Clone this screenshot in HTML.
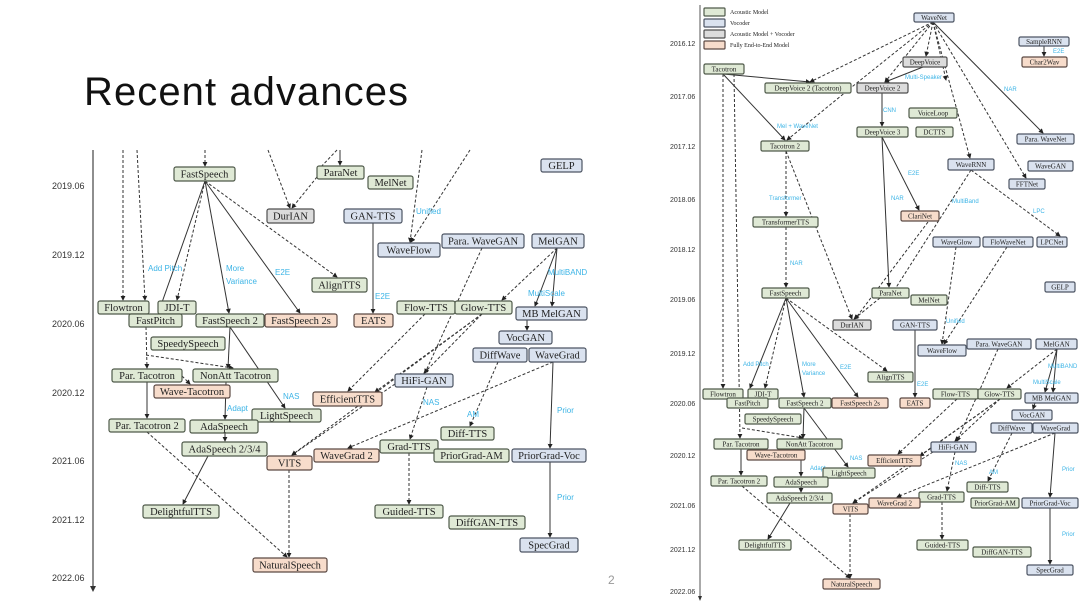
<!DOCTYPE html>
<html><head><meta charset="utf-8"><style>
html,body{margin:0;padding:0;background:#fff;width:1080px;height:608px;overflow:hidden}
svg{display:block}
.g{fill:#dfe9d5;stroke:#4f5a4a;stroke-width:1.2}
.b{fill:#dae2ef;stroke:#4d5563;stroke-width:1.2}
.y{fill:#dcdcdc;stroke:#4f4f4f;stroke-width:1.2}
.o{fill:#f7dccb;stroke:#5c4a44;stroke-width:1.2}
.L text.n{font:10.5px "Liberation Serif",serif;fill:#222;text-anchor:middle}
.R text.n{font:7px "Liberation Serif",serif;fill:#222;text-anchor:middle}
.s{stroke:#333;stroke-width:1;fill:none}
.d{stroke:#333;stroke-width:1;fill:none;stroke-dasharray:3,2}
.lb{font:8px "Liberation Sans",sans-serif;fill:#3cb4e6}
.R .lb{font:6px "Liberation Sans",sans-serif}
.ax{font:9px "Liberation Sans",sans-serif;fill:#333}
.R .ax{font:7px "Liberation Sans",sans-serif}
</style></head><body>
<svg width="1080" height="608" viewBox="0 0 1080 608" xmlns="http://www.w3.org/2000/svg">
<defs><marker id="a" viewBox="0 0 6 6" refX="5" refY="3" markerWidth="5" markerHeight="5" orient="auto"><path d="M0,0L6,3L0,6z" fill="#222"/></marker></defs>
<text x="84" y="105" font-family="Liberation Sans, sans-serif" font-size="40" fill="#111" textLength="324">Recent advances</text>
<text x="608" y="584" font-family="Liberation Sans, sans-serif" font-size="12" fill="#999">2</text>

<g class="L">
<line x1="93" y1="150" x2="93" y2="588" stroke="#444" stroke-width="1.2"/>
<path d="M90,586L93,592L96,586z" fill="#333"/>
<text class="ax" x="52" y="189">2019.06</text><text class="ax" x="52" y="258">2019.12</text><text class="ax" x="52" y="327">2020.06</text><text class="ax" x="52" y="396">2020.12</text><text class="ax" x="52" y="464">2021.06</text><text class="ax" x="52" y="523">2021.12</text><text class="ax" x="52" y="581">2022.06</text>
<g marker-end="url(#a)">
<path class="d" d="M123,150L123,300"/><path class="d" d="M137,150L145,300"/><path class="d" d="M146,327L147,368"/>
<path class="d" d="M205,150L205,166"/><path class="d" d="M268,150L290,208"/><path class="d" d="M317,177L292,208"/>
<path class="d" d="M337,150L318,170"/><path class="s" d="M340,150L340,165"/>
<path class="d" d="M422,150L410,242"/><path class="d" d="M470,150L411,242"/>
<path class="s" d="M205,181L160,308"/><path class="d" d="M205,181L177,300"/><path class="s" d="M205,181L229,313"/><path class="s" d="M205,181L300,313"/><path class="d" d="M205,181L337,277"/>
<path class="s" d="M373,223L373,313"/>
<path class="d" d="M482,248L425,373"/>
<path class="s" d="M557,248L535,306"/><path class="s" d="M557,248L552,306"/><path class="d" d="M557,248L502,300"/>
<path class="s" d="M527,320L527,330"/>
<path class="d" d="M425,314L348,391"/><path class="d" d="M482,314L424,373"/><path class="d" d="M482,314L292,455"/><path class="d" d="M482,314L375,392"/>
<path class="d" d="M498,362L470,426"/>
<path class="s" d="M553,362L550,448"/><path class="d" d="M553,362L348,448"/>
<path class="s" d="M550,462L550,537"/>
<path class="d" d="M395,384L292,455"/><path class="d" d="M427,387L410,439"/>
<path class="s" d="M230,327L228,368"/><path class="s" d="M230,327L285,408"/>
<path class="d" d="M146,355L233,368"/>
<path class="d" d="M182,376L190,384"/><path class="s" d="M147,382L147,418"/>
<path class="s" d="M226,382L225,419"/><path class="s" d="M225,433L225,441"/>
<path class="s" d="M208,456L183,504"/>
<path class="d" d="M147,432L287,557"/><path class="d" d="M289,470L289,557"/>
<path class="d" d="M409,453L409,504"/>
</g>
<text class="lb" x="148" y="271">Add Pitch</text><text class="lb" x="226" y="271">More</text><text class="lb" x="226" y="284">Variance</text><text class="lb" x="275" y="275">E2E</text>
<text class="lb" x="416" y="214">Unified</text><text class="lb" x="375" y="299">E2E</text><text class="lb" x="548" y="275">MultiBAND</text><text class="lb" x="528" y="296">MultiScale</text>
<text class="lb" x="283" y="399">NAS</text><text class="lb" x="227" y="411">Adapt</text><text class="lb" x="423" y="405">NAS</text><text class="lb" x="467" y="417">AM</text><text class="lb" x="557" y="413">Prior</text><text class="lb" x="557" y="500">Prior</text>
<rect class="g" x="174" y="167" width="61" height="14" rx="2"/><text class="n" x="204.5" y="177.5">FastSpeech</text>
<rect class="g" x="317" y="166" width="47" height="13" rx="2"/><text class="n" x="340.5" y="176">ParaNet</text>
<rect class="g" x="368" y="176" width="45" height="13" rx="2"/><text class="n" x="390.5" y="186">MelNet</text>
<rect class="b" x="541" y="159" width="41" height="13" rx="2"/><text class="n" x="561.5" y="169">GELP</text>
<rect class="y" x="267" y="209" width="47" height="14" rx="2"/><text class="n" x="290.5" y="219.5">DurIAN</text>
<rect class="b" x="344" y="209" width="58" height="14" rx="2"/><text class="n" x="373" y="219.5">GAN-TTS</text>
<rect class="b" x="378" y="243" width="62" height="14" rx="2"/><text class="n" x="409" y="253.5">WaveFlow</text>
<rect class="b" x="442" y="234" width="82" height="14" rx="2"/><text class="n" x="483" y="244.5">Para. WaveGAN</text>
<rect class="b" x="532" y="234" width="52" height="14" rx="2"/><text class="n" x="558" y="244.5">MelGAN</text>
<rect class="g" x="312" y="278" width="55" height="14" rx="2"/><text class="n" x="339.5" y="288.5">AlignTTS</text>
<rect class="g" x="98" y="301" width="51" height="13" rx="2"/><text class="n" x="123.5" y="311">Flowtron</text>
<rect class="g" x="158" y="301" width="38" height="13" rx="2"/><text class="n" x="177" y="311">JDI-T</text>
<rect class="g" x="129" y="314" width="53" height="13" rx="2"/><text class="n" x="155.5" y="324">FastPitch</text>
<rect class="g" x="196" y="314" width="68" height="13" rx="2"/><text class="n" x="230" y="324">FastSpeech 2</text>
<rect class="o" x="265" y="314" width="72" height="13" rx="2"/><text class="n" x="301" y="324">FastSpeech 2s</text>
<rect class="o" x="354" y="314" width="39" height="13" rx="2"/><text class="n" x="373.5" y="324">EATS</text>
<rect class="g" x="397" y="301" width="58" height="13" rx="2"/><text class="n" x="426" y="311">Flow-TTS</text>
<rect class="g" x="455" y="301" width="57" height="13" rx="2"/><text class="n" x="483.5" y="311">Glow-TTS</text>
<rect class="b" x="516" y="307" width="71" height="13" rx="2"/><text class="n" x="551.5" y="317">MB MelGAN</text>
<rect class="b" x="499" y="331" width="53" height="13" rx="2"/><text class="n" x="525.5" y="341">VocGAN</text>
<rect class="g" x="151" y="337" width="74" height="13" rx="2"/><text class="n" x="188" y="347">SpeedySpeech</text>
<rect class="b" x="473" y="348" width="54" height="14" rx="2"/><text class="n" x="500" y="358.5">DiffWave</text>
<rect class="b" x="529" y="348" width="57" height="14" rx="2"/><text class="n" x="557.5" y="358.5">WaveGrad</text>
<rect class="g" x="112" y="369" width="70" height="13" rx="2"/><text class="n" x="147" y="379">Par. Tacotron</text>
<rect class="g" x="193" y="369" width="85" height="13" rx="2"/><text class="n" x="235.5" y="379">NonAtt Tacotron</text>
<rect class="o" x="154" y="385" width="76" height="13" rx="2"/><text class="n" x="192" y="395">Wave-Tacotron</text>
<rect class="b" x="395" y="374" width="58" height="13" rx="2"/><text class="n" x="424" y="384">HiFi-GAN</text>
<rect class="o" x="313" y="392" width="69" height="14" rx="2"/><text class="n" x="347.5" y="402.5">EfficientTTS</text>
<rect class="g" x="252" y="409" width="69" height="13" rx="2"/><text class="n" x="286.5" y="419">LightSpeech</text>
<rect class="g" x="109" y="419" width="76" height="13" rx="2"/><text class="n" x="147" y="429">Par. Tacotron 2</text>
<rect class="g" x="190" y="420" width="68" height="13" rx="2"/><text class="n" x="224" y="430">AdaSpeech</text>
<rect class="g" x="441" y="427" width="53" height="13" rx="2"/><text class="n" x="467.5" y="437">Diff-TTS</text>
<rect class="g" x="182" y="442" width="85" height="14" rx="2"/><text class="n" x="224.5" y="452.5">AdaSpeech 2/3/4</text>
<rect class="g" x="380" y="440" width="58" height="13" rx="2"/><text class="n" x="409" y="450">Grad-TTS</text>
<rect class="o" x="267" y="456" width="45" height="14" rx="2"/><text class="n" x="289.5" y="466.5">VITS</text>
<rect class="o" x="314" y="449" width="65" height="13" rx="2"/><text class="n" x="346.5" y="459">WaveGrad 2</text>
<rect class="g" x="434" y="449" width="75" height="13" rx="2"/><text class="n" x="471.5" y="459">PriorGrad-AM</text>
<rect class="b" x="512" y="449" width="74" height="13" rx="2"/><text class="n" x="549" y="459">PriorGrad-Voc</text>
<rect class="g" x="143" y="505" width="76" height="13" rx="2"/><text class="n" x="181" y="515">DelightfulTTS</text>
<rect class="g" x="375" y="505" width="68" height="13" rx="2"/><text class="n" x="409" y="515">Guided-TTS</text>
<rect class="g" x="449" y="516" width="76" height="13" rx="2"/><text class="n" x="487" y="526">DiffGAN-TTS</text>
<rect class="b" x="520" y="538" width="58" height="14" rx="2"/><text class="n" x="549" y="548.5">SpecGrad</text>
<rect class="o" x="253" y="558" width="74" height="14" rx="2"/><text class="n" x="290" y="568.5">NaturalSpeech</text>
</g>

<g class="R">
<line x1="700" y1="5" x2="700" y2="598" stroke="#555" stroke-width="1"/>
<path d="M698,596L700,601L702,596z" fill="#333"/>
<text class="ax" x="670" y="46">2016.12</text><text class="ax" x="670" y="99">2017.06</text><text class="ax" x="670" y="149">2017.12</text><text class="ax" x="670" y="202">2018.06</text><text class="ax" x="670" y="252">2018.12</text><text class="ax" x="670" y="302">2019.06</text><text class="ax" x="670" y="356">2019.12</text><text class="ax" x="670" y="406">2020.06</text><text class="ax" x="670" y="458">2020.12</text><text class="ax" x="670" y="508">2021.06</text><text class="ax" x="670" y="552">2021.12</text><text class="ax" x="670" y="594">2022.06</text>
<rect class="g" x="704" y="8" width="21" height="8" rx="1"/><rect class="b" x="704" y="19" width="21" height="8" rx="1"/><rect class="y" x="704" y="30" width="21" height="8" rx="1"/><rect class="o" x="704" y="41" width="21" height="8" rx="1"/>
<text class="n" x="730" y="14" style="text-anchor:start;font-size:6px">Acoustic Model</text><text class="n" x="730" y="25" style="text-anchor:start;font-size:6px">Vocoder</text><text class="n" x="730" y="36" style="text-anchor:start;font-size:6px">Acoustic Model + Vocoder</text><text class="n" x="730" y="47" style="text-anchor:start;font-size:6px">Fully End-to-End Model</text>
<g marker-end="url(#a)">
<path class="d" d="M933,22L810,82"/><path class="d" d="M933,22L926,56"/><path class="d" d="M933,22L885,82"/><path class="d" d="M933,22L858,82L787,140"/><path class="d" d="M933,22L970,158"/><path class="d" d="M933,22L1026,178"/><path class="s" d="M933,22L1043,133"/><path class="d" d="M933,22L946,80"/>
<path class="s" d="M1044,46L1044,56"/><path class="s" d="M923,67L885,82"/>
<path class="s" d="M723,74L810,82"/><path class="s" d="M723,74L785,140"/>
<path class="d" d="M723,74L723,388"/><path class="d" d="M734,74L740,438"/>
<path class="s" d="M882,93L882,126"/><path class="s" d="M882,137L919,210"/><path class="s" d="M882,137L889,287"/>
<path class="d" d="M786,151L786,216"/><path class="d" d="M786,151L852,319"/><path class="d" d="M786,227L786,287"/>
<path class="d" d="M971,170L890,297"/><path class="d" d="M971,170L1060,236"/><path class="d" d="M928,222L855,319"/>
<path class="d" d="M956,247L942,344"/><path class="d" d="M1007,247L944,344"/>
<path class="s" d="M786,298L750,388"/><path class="d" d="M786,298L765,388"/><path class="s" d="M786,298L804,397"/><path class="s" d="M786,298L858,397"/><path class="d" d="M786,298L887,371"/>
<path class="d" d="M880,298L854,319"/><path class="s" d="M915,330L915,397"/>
<path class="d" d="M998,349L957,441"/>
<path class="s" d="M1057,349L1045,392"/><path class="s" d="M1057,349L1053,392"/><path class="d" d="M1057,349L1007,388"/>
<path class="s" d="M1035,403L1033,409"/>
<path class="d" d="M957,399L898,454"/><path class="d" d="M1000,399L853,503"/><path class="d" d="M1000,399L920,456"/><path class="d" d="M1000,399L955,441"/>
<path class="d" d="M1012,433L988,481"/><path class="s" d="M1055,433L1050,497"/><path class="d" d="M1055,433L897,497"/>
<path class="s" d="M1050,508L1050,564"/><path class="d" d="M955,452L947,491"/><path class="d" d="M933,452L853,503"/>
<path class="s" d="M804,408L803,438"/><path class="s" d="M804,408L848,467"/><path class="d" d="M742,428L803,438"/>
<path class="s" d="M741,449L741,475"/><path class="s" d="M801,449L801,476"/><path class="s" d="M801,487L801,492"/>
<path class="s" d="M790,503L768,539"/><path class="d" d="M742,486L850,578"/><path class="d" d="M850,514L850,578"/><path class="d" d="M942,502L942,539"/>
</g>
<text class="lb" x="1053" y="53">E2E</text><text class="lb" x="905" y="79">Multi-Speaker</text><text class="lb" x="1004" y="91">NAR</text><text class="lb" x="777" y="128">Mel + WaveNet</text><text class="lb" x="883" y="112">CNN</text><text class="lb" x="908" y="175">E2E</text><text class="lb" x="891" y="200">NAR</text><text class="lb" x="769" y="200">Transformer</text><text class="lb" x="952" y="203">MultiBand</text><text class="lb" x="1033" y="213">LPC</text><text class="lb" x="790" y="265">NAR</text>
<text class="lb" x="743" y="366">Add Pitch</text><text class="lb" x="802" y="366">More</text><text class="lb" x="802" y="375">Variance</text><text class="lb" x="840" y="369">E2E</text><text class="lb" x="946" y="323">Unified</text><text class="lb" x="917" y="386">E2E</text><text class="lb" x="1048" y="368">MultiBAND</text><text class="lb" x="1033" y="384">MultiScale</text><text class="lb" x="850" y="460">NAS</text><text class="lb" x="810" y="470">Adapt</text><text class="lb" x="955" y="465">NAS</text><text class="lb" x="989" y="474">AM</text><text class="lb" x="1062" y="471">Prior</text><text class="lb" x="1062" y="536">Prior</text>
<rect class="b" x="914" y="13" width="40" height="9" rx="1.5"/><text class="n" x="934" y="20">WaveNet</text>
<rect class="b" x="1019" y="37" width="50" height="9" rx="1.5"/><text class="n" x="1044" y="44">SampleRNN</text>
<rect class="o" x="1022" y="57" width="45" height="10" rx="1.5"/><text class="n" x="1044.5" y="64.5">Char2Wav</text>
<rect class="y" x="903" y="57" width="44" height="10" rx="1.5"/><text class="n" x="925" y="64.5">DeepVoice</text>
<rect class="g" x="704" y="64" width="40" height="10" rx="1.5"/><text class="n" x="724" y="71.5">Tacotron</text>
<rect class="g" x="765" y="83" width="86" height="10" rx="1.5"/><text class="n" x="808" y="90.5">DeepVoice 2 (Tacotron)</text>
<rect class="y" x="857" y="83" width="51" height="10" rx="1.5"/><text class="n" x="882.5" y="90.5">DeepVoice 2</text>
<rect class="g" x="909" y="108" width="48" height="10" rx="1.5"/><text class="n" x="933" y="115.5">VoiceLoop</text>
<rect class="g" x="857" y="127" width="51" height="10" rx="1.5"/><text class="n" x="882.5" y="134.5">DeepVoice 3</text>
<rect class="g" x="916" y="127" width="37" height="10" rx="1.5"/><text class="n" x="934.5" y="134.5">DCTTS</text>
<rect class="b" x="1017" y="134" width="57" height="10" rx="1.5"/><text class="n" x="1045.5" y="141.5">Para. WaveNet</text>
<rect class="g" x="761" y="141" width="48" height="10" rx="1.5"/><text class="n" x="785" y="148.5">Tacotron 2</text>
<rect class="b" x="948" y="159" width="46" height="11" rx="1.5"/><text class="n" x="971" y="167">WaveRNN</text>
<rect class="b" x="1028" y="161" width="45" height="10" rx="1.5"/><text class="n" x="1050.5" y="168.5">WaveGAN</text>
<rect class="b" x="1009" y="179" width="36" height="10" rx="1.5"/><text class="n" x="1027" y="186.5">FFTNet</text>
<rect class="o" x="901" y="211" width="38" height="10" rx="1.5"/><text class="n" x="920" y="218.5">ClariNet</text>
<rect class="g" x="753" y="217" width="65" height="10" rx="1.5"/><text class="n" x="785.5" y="224.5">TransformerTTS</text>
<rect class="b" x="933" y="237" width="47" height="10" rx="1.5"/><text class="n" x="956.5" y="244.5">WaveGlow</text>
<rect class="b" x="983" y="237" width="50" height="10" rx="1.5"/><text class="n" x="1008" y="244.5">FloWaveNet</text>
<rect class="b" x="1037" y="237" width="30" height="10" rx="1.5"/><text class="n" x="1052" y="244.5">LPCNet</text>
<rect class="b" x="1045" y="282" width="30" height="10" rx="1.5"/><text class="n" x="1060" y="289.5">GELP</text>
<rect class="g" x="762" y="288" width="47" height="10" rx="1.5"/><text class="n" x="785.5" y="295.5">FastSpeech</text>
<rect class="g" x="872" y="288" width="37" height="10" rx="1.5"/><text class="n" x="890.5" y="295.5">ParaNet</text>
<rect class="g" x="911" y="295" width="36" height="10" rx="1.5"/><text class="n" x="929" y="302.5">MelNet</text>
<rect class="y" x="833" y="320" width="38" height="10" rx="1.5"/><text class="n" x="852" y="327.5">DurIAN</text>
<rect class="b" x="893" y="320" width="44" height="10" rx="1.5"/><text class="n" x="915" y="327.5">GAN-TTS</text>
<rect class="b" x="918" y="345" width="48" height="11" rx="1.5"/><text class="n" x="942" y="353">WaveFlow</text>
<rect class="b" x="967" y="339" width="64" height="10" rx="1.5"/><text class="n" x="999" y="346.5">Para. WaveGAN</text>
<rect class="b" x="1036" y="339" width="41" height="10" rx="1.5"/><text class="n" x="1056.5" y="346.5">MelGAN</text>
<rect class="g" x="868" y="372" width="45" height="10" rx="1.5"/><text class="n" x="890.5" y="379.5">AlignTTS</text>
<rect class="g" x="703" y="389" width="40" height="10" rx="1.5"/><text class="n" x="723" y="396.5">Flowtron</text>
<rect class="g" x="748" y="389" width="30" height="10" rx="1.5"/><text class="n" x="763" y="396.5">JDI-T</text>
<rect class="g" x="727" y="398" width="41" height="10" rx="1.5"/><text class="n" x="747.5" y="405.5">FastPitch</text>
<rect class="g" x="779" y="398" width="52" height="10" rx="1.5"/><text class="n" x="805" y="405.5">FastSpeech 2</text>
<rect class="o" x="832" y="398" width="56" height="10" rx="1.5"/><text class="n" x="860" y="405.5">FastSpeech 2s</text>
<rect class="o" x="900" y="398" width="30" height="10" rx="1.5"/><text class="n" x="915" y="405.5">EATS</text>
<rect class="g" x="933" y="389" width="45" height="10" rx="1.5"/><text class="n" x="955.5" y="396.5">Flow-TTS</text>
<rect class="g" x="978" y="389" width="43" height="10" rx="1.5"/><text class="n" x="999.5" y="396.5">Glow-TTS</text>
<rect class="b" x="1025" y="393" width="53" height="10" rx="1.5"/><text class="n" x="1051.5" y="400.5">MB MelGAN</text>
<rect class="b" x="1012" y="410" width="40" height="10" rx="1.5"/><text class="n" x="1032" y="417.5">VocGAN</text>
<rect class="g" x="745" y="414" width="56" height="10" rx="1.5"/><text class="n" x="773" y="421.5">SpeedySpeech</text>
<rect class="b" x="991" y="423" width="41" height="10" rx="1.5"/><text class="n" x="1011.5" y="430.5">DiffWave</text>
<rect class="b" x="1033" y="423" width="45" height="10" rx="1.5"/><text class="n" x="1055.5" y="430.5">WaveGrad</text>
<rect class="g" x="714" y="439" width="54" height="10" rx="1.5"/><text class="n" x="741" y="446.5">Par. Tacotron</text>
<rect class="g" x="777" y="439" width="65" height="10" rx="1.5"/><text class="n" x="809.5" y="446.5">NonAtt Tacotron</text>
<rect class="o" x="747" y="450" width="58" height="10" rx="1.5"/><text class="n" x="776" y="457.5">Wave-Tacotron</text>
<rect class="b" x="931" y="442" width="45" height="10" rx="1.5"/><text class="n" x="953.5" y="449.5">HiFi-GAN</text>
<rect class="o" x="868" y="455" width="53" height="11" rx="1.5"/><text class="n" x="894.5" y="463">EfficientTTS</text>
<rect class="g" x="823" y="468" width="52" height="10" rx="1.5"/><text class="n" x="849" y="475.5">LightSpeech</text>
<rect class="g" x="711" y="476" width="56" height="10" rx="1.5"/><text class="n" x="739" y="483.5">Par. Tacotron 2</text>
<rect class="g" x="774" y="477" width="54" height="10" rx="1.5"/><text class="n" x="801" y="484.5">AdaSpeech</text>
<rect class="g" x="967" y="482" width="41" height="10" rx="1.5"/><text class="n" x="987.5" y="489.5">Diff-TTS</text>
<rect class="g" x="767" y="493" width="65" height="10" rx="1.5"/><text class="n" x="799.5" y="500.5">AdaSpeech 2/3/4</text>
<rect class="g" x="919" y="492" width="45" height="10" rx="1.5"/><text class="n" x="941.5" y="499.5">Grad-TTS</text>
<rect class="o" x="833" y="504" width="35" height="10" rx="1.5"/><text class="n" x="850.5" y="511.5">VITS</text>
<rect class="o" x="869" y="498" width="51" height="10" rx="1.5"/><text class="n" x="894.5" y="505.5">WaveGrad 2</text>
<rect class="g" x="971" y="498" width="48" height="10" rx="1.5"/><text class="n" x="995" y="505.5">PriorGrad-AM</text>
<rect class="b" x="1022" y="498" width="56" height="10" rx="1.5"/><text class="n" x="1050" y="505.5">PriorGrad-Voc</text>
<rect class="g" x="739" y="540" width="52" height="10" rx="1.5"/><text class="n" x="765" y="547.5">DelightfulTTS</text>
<rect class="g" x="917" y="540" width="51" height="10" rx="1.5"/><text class="n" x="942.5" y="547.5">Guided-TTS</text>
<rect class="g" x="973" y="547" width="58" height="10" rx="1.5"/><text class="n" x="1002" y="554.5">DiffGAN-TTS</text>
<rect class="b" x="1027" y="565" width="46" height="10" rx="1.5"/><text class="n" x="1050" y="572.5">SpecGrad</text>
<rect class="o" x="823" y="579" width="57" height="10" rx="1.5"/><text class="n" x="851.5" y="586.5">NaturalSpeech</text>
</g>
</svg>
</body></html>
